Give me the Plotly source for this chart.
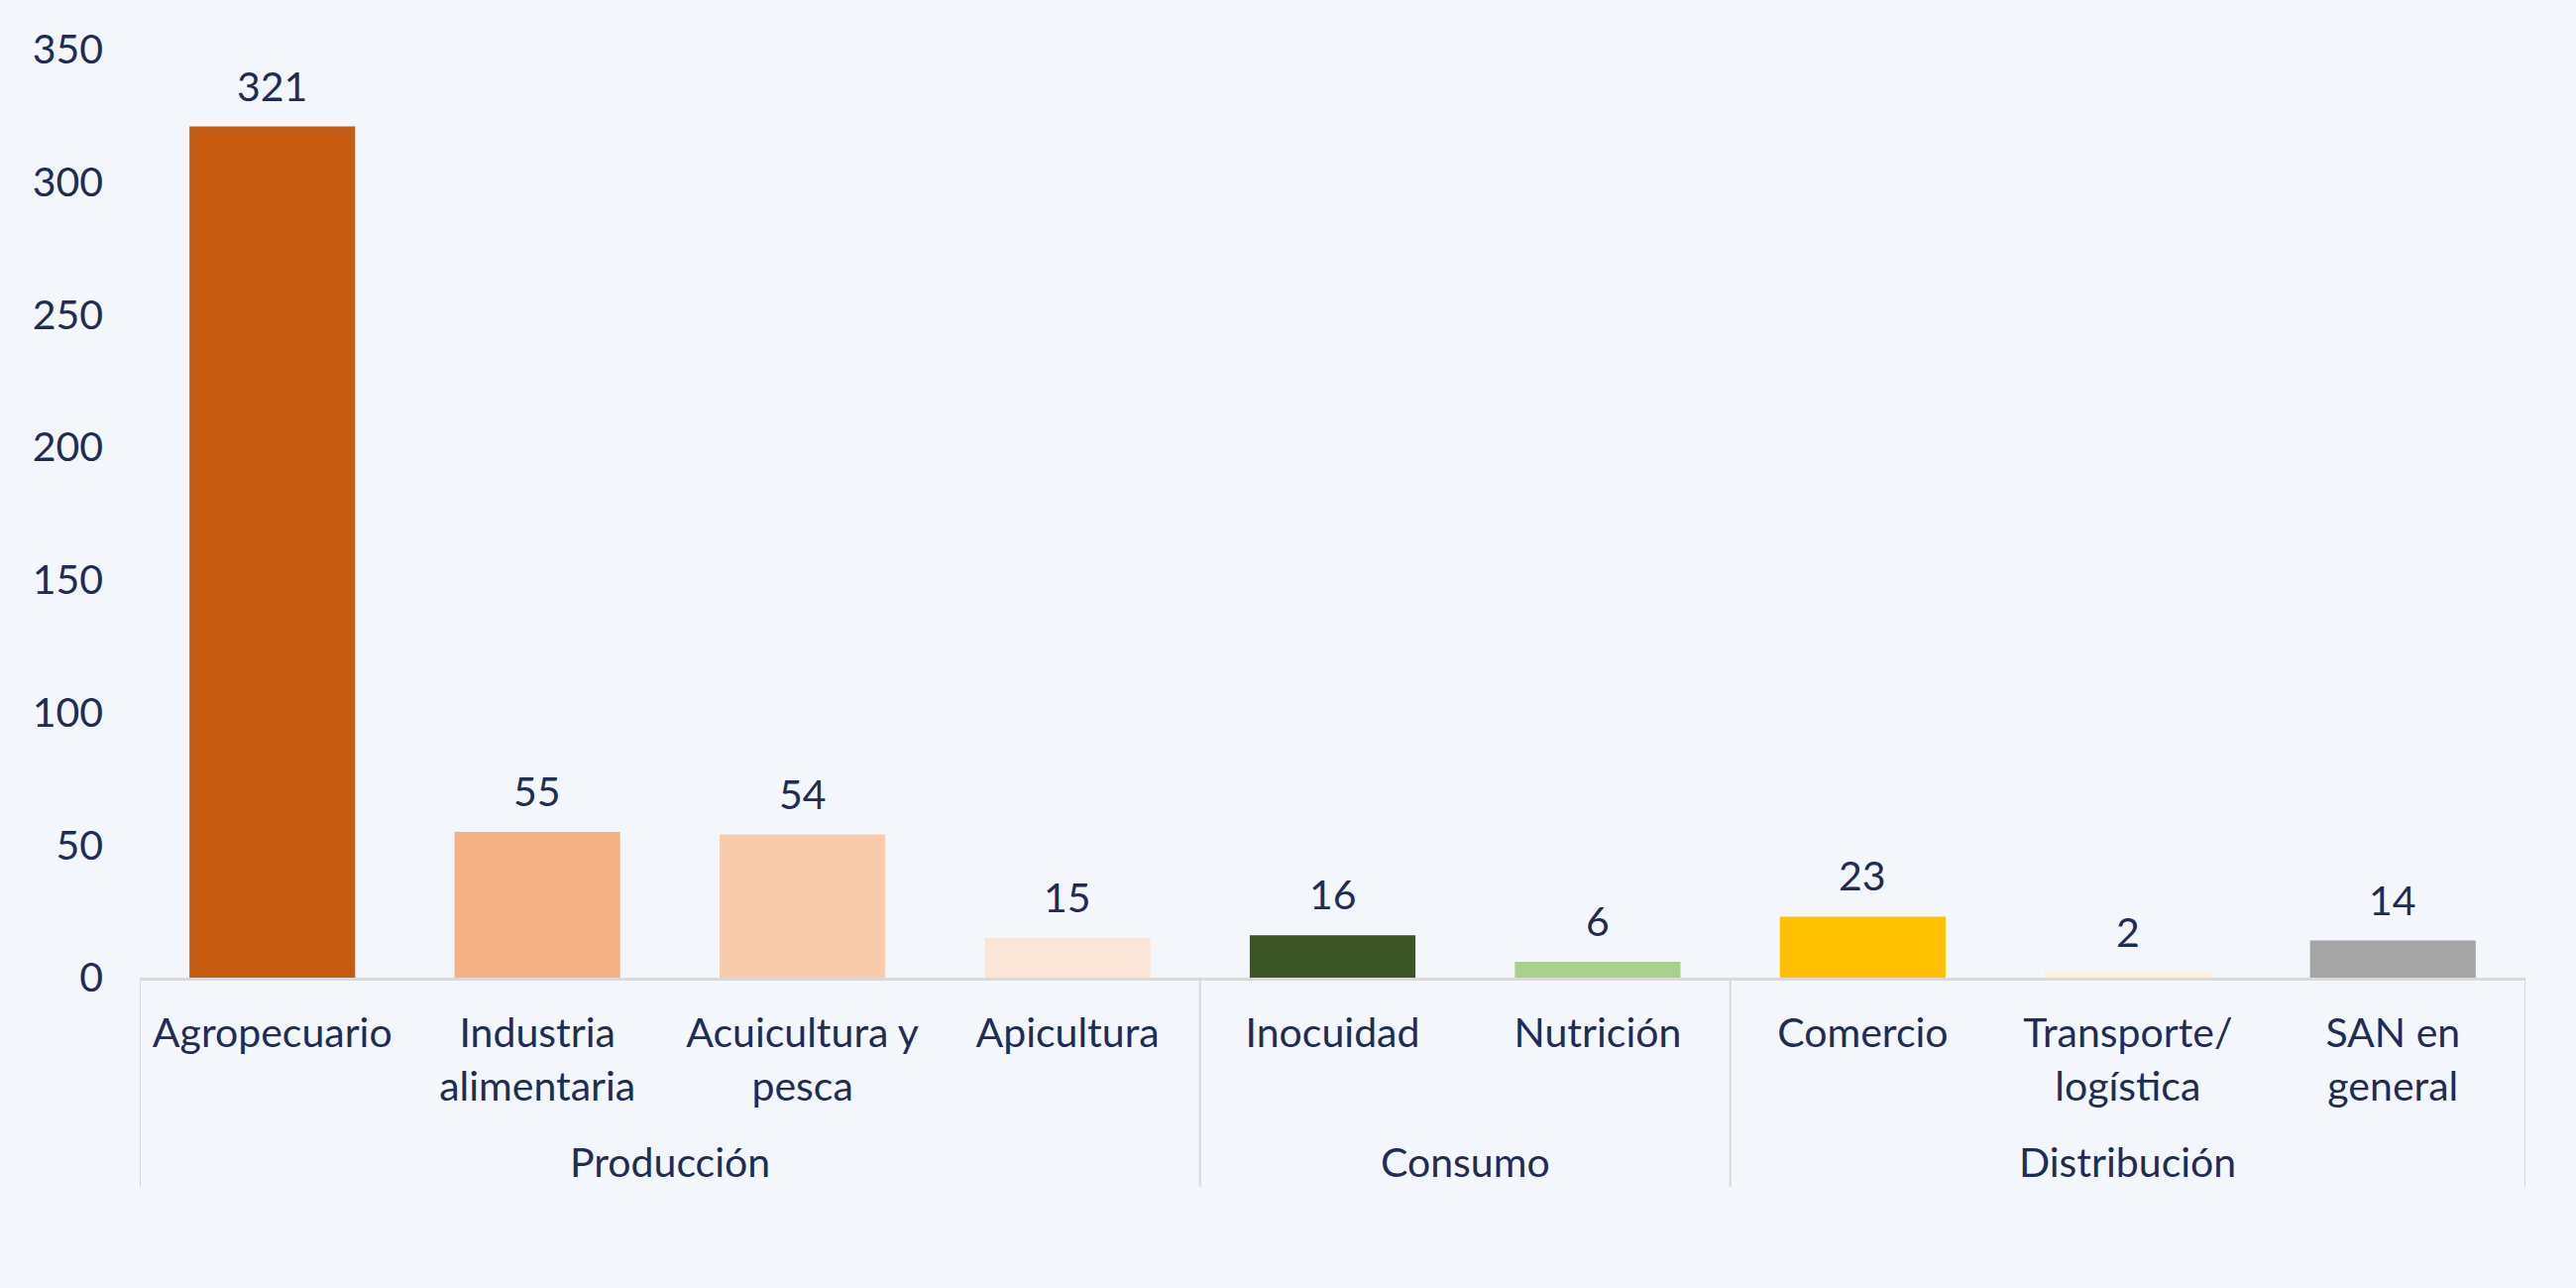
import plotly.graph_objects as go

categories = ["Agropecuario", "Industria<br>alimentaria", "Acuicultura y<br>pesca", "Apicultura",
              "Inocuidad", "Nutrición", "Comercio", "Transporte/<br>logística", "SAN en<br>general"]
values = [321, 55, 54, 15, 16, 6, 23, 2, 14]
colors = ["#C55A11", "#F4B183", "#F8CBAD", "#FBE5D6", "#3B5524", "#A9D18E", "#FFC000", "#FFF2CC", "#A5A5A5"]
groups = ["Producción", "Consumo", "Distribución"]
group_sizes = [4, 2, 3]
y_ticks = [0, 50, 100, 150, 200, 250, 300, 350]

TEXT = "#1F2D56"
BG = "#F3F7FC"
LINE = "#D9D9D9"
FONT = "Lato"
FS = 41

fig = go.Figure()
fig.add_trace(go.Bar(
    x=list(range(len(categories))), y=values,
    marker=dict(color=colors, line=dict(width=0)),
    hoverinfo="skip", showlegend=False,
))

# data labels
for i, v in enumerate(values):
    fig.add_annotation(x=i, y=v, xref="x", yref="y", text=str(v), showarrow=False,
                       yanchor="bottom", yshift=15, font=dict(family=FONT, size=FS, color=TEXT))

# group labels and dividers
start = 0
bounds = [-0.5]
for g, n in zip(groups, group_sizes):
    center = start + (n - 1) / 2
    fig.add_annotation(x=center, y=-0.1987, xref="x", yref="paper", text=g, showarrow=False,
                       yanchor="middle", font=dict(family=FONT, size=FS, color=TEXT))
    start += n
    bounds.append(start - 0.5)
for b in bounds:
    fig.add_shape(type="line", xref="x", yref="paper", x0=b, x1=b, y0=0, y1=-0.2254,
                  line=dict(color=LINE, width=2))

fig.update_layout(
    width=2599, height=1299,
    paper_bgcolor=BG, plot_bgcolor=BG,
    margin=dict(l=141, r=51, t=50, b=313),
    bargap=0.375,
    font=dict(family=FONT, size=FS, color=TEXT),
    xaxis=dict(
        tickmode="array", tickvals=list(range(len(categories))), ticktext=categories,
        range=[-0.5, len(categories) - 0.5],
        showgrid=False, zeroline=False, showline=True, linecolor=LINE, linewidth=3,
        ticks="", ticklabelstandoff=18,
        tickfont=dict(family=FONT, size=FS, color=TEXT),
    ),
    yaxis=dict(
        range=[0, 350], tickvals=y_ticks, showgrid=False, zeroline=False, showline=False,
        ticks="", ticklabelstandoff=36,
        tickfont=dict(family=FONT, size=FS, color=TEXT),
    ),
)

fig.write_html("out.html", config={"displayModeBar": False},
               post_script="document.body.style.margin='0';document.body.style.background='#F3F7FC';")
